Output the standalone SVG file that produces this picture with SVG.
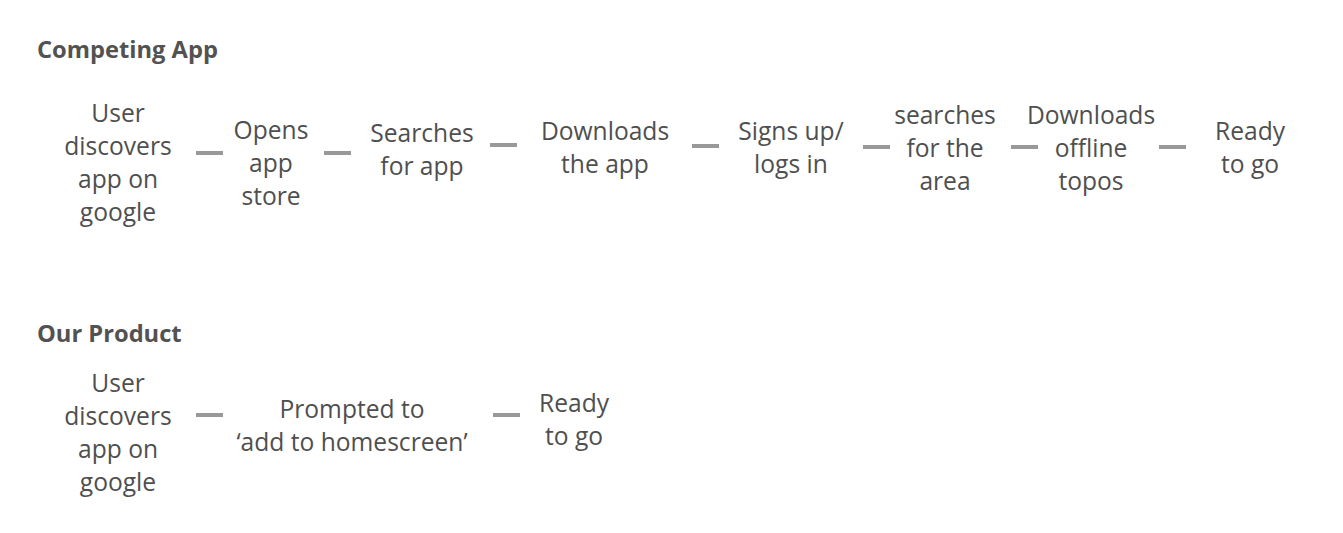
<svg xmlns="http://www.w3.org/2000/svg" width="1343" height="533" viewBox="0 0 1343 533">
<style>
.h{font-family:"Open Sans","Liberation Sans",sans-serif;font-weight:700;font-size:23.7px;fill:#525252}
.t{font-family:"Open Sans","Liberation Sans",sans-serif;font-weight:500;font-size:24.6px;fill:#4f4f4f;text-anchor:middle}
.c line{stroke:#999;stroke-width:4}
</style>
<rect width="1343" height="533" fill="#fff"/>
<text class="h" x="37" y="58">Competing App</text>
<text class="h" x="37" y="342">Our Product</text>
<g id="n1"><text class="t" y="122"><tspan x="118">User</tspan><tspan x="118" dy="33">discovers</tspan><tspan x="118" dy="33">app on</tspan><tspan x="118" dy="33">google</tspan></text></g>
<g id="n2"><text class="t" y="139"><tspan x="271">Opens</tspan><tspan x="271" dy="33">app</tspan><tspan x="271" dy="33">store</tspan></text></g>
<g id="n3"><text class="t" y="142"><tspan x="422">Searches</tspan><tspan x="422" dy="33">for app</tspan></text></g>
<g id="n4"><text class="t" y="140"><tspan x="605">Downloads</tspan><tspan x="605" dy="33">the app</tspan></text></g>
<g id="n5"><text class="t" y="140"><tspan x="791">Signs up/</tspan><tspan x="791" dy="33">logs in</tspan></text></g>
<g id="n6"><text class="t" y="124"><tspan x="945">searches</tspan><tspan x="945" dy="33">for the</tspan><tspan x="945" dy="33">area</tspan></text></g>
<g id="n7"><text class="t" y="124"><tspan x="1091">Downloads</tspan><tspan x="1091" dy="33">offline</tspan><tspan x="1091" dy="33">topos</tspan></text></g>
<g id="n8"><text class="t" y="140"><tspan x="1250">Ready</tspan><tspan x="1250" dy="33">to go</tspan></text></g>
<g id="m1"><text class="t" y="392"><tspan x="118">User</tspan><tspan x="118" dy="33">discovers</tspan><tspan x="118" dy="33">app on</tspan><tspan x="118" dy="33">google</tspan></text></g>
<g id="m2"><text class="t" y="418"><tspan x="352">Prompted to</tspan><tspan x="352" dy="33">‘add to homescreen’</tspan></text></g>
<g id="m3"><text class="t" y="412"><tspan x="574">Ready</tspan><tspan x="574" dy="33">to go</tspan></text></g>
<g id="connectors" class="c">
<line x1="196" y1="153" x2="223" y2="153"/>
<line x1="324" y1="153" x2="351" y2="153"/>
<line x1="490" y1="145" x2="517" y2="145"/>
<line x1="692" y1="146" x2="719" y2="146"/>
<line x1="863" y1="147" x2="890" y2="147"/>
<line x1="1011" y1="147" x2="1038" y2="147"/>
<line x1="1159" y1="147" x2="1186" y2="147"/>
<line x1="196" y1="415" x2="223" y2="415"/>
<line x1="493" y1="415" x2="520" y2="415"/>
</g>
</svg>
